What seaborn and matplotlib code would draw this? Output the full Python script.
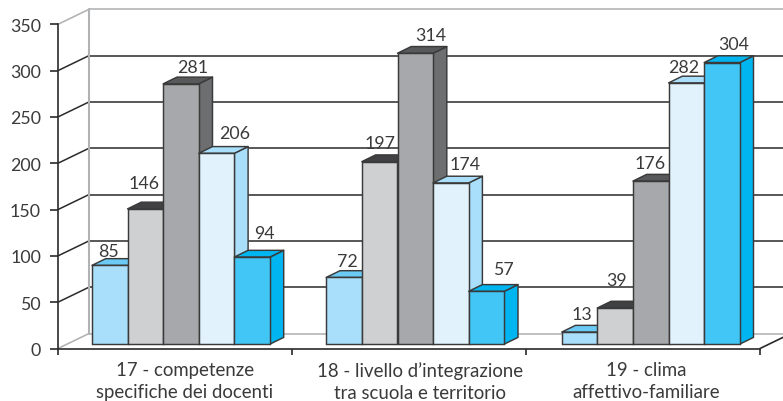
import numpy as np
import pandas as pd
import matplotlib
matplotlib.use("Agg")
import matplotlib.pyplot as plt
from matplotlib.patches import Polygon
from matplotlib.transforms import Affine2D
import seaborn as sns

categories = ["17 - competenze\nspecifiche dei docenti",
              "18 - livello d’integrazione\ntra scuola e territorio",
              "19 - clima\naffettivo-familiare"]
series_names = ["a", "b", "c", "d", "e"]
series_a = [85, 72, 13]
series_b = [146, 197, 39]
series_c = [281, 314, 176]
series_d = [206, 174, 282]
series_e = [94, 57, 304]
y_ticks = [0, 50, 100, 150, 200, 250, 300, 350]

# styling (per series)
front_cols = ["#A9DFFB", "#CFD0D2", "#A7A8AB", "#E1F2FC", "#42C6F6"]
side_cols = ["#6CCBF5", "#58595B", "#6D6E70", "#A9DFFB", "#00B5F0"]
top_cols = ["#6CCBF5", "#414042", "#58595B", "#A9DFFB", "#00B5F0"]
# label nudges in pixels (per series, per category)
label_dx = [[-1, 3, 2], [-1, 0, 1], [12, 15, -1], [18, 14, -3], [12, 17, 12]]
label_dy = [[14, 16, 18], [26, 19, 28], [17, 18, 18], [20, 19, 16], [24, 22, 19]]
cat_label_dx = [10, 11, 3]
group_dx = [-0.3, 0, 1.5]

W, H = 783, 402
AX_L, AX_R, AX_B, AX_T = 58, 760, 349.5, 25.3
INK = "#3a3a3a"
LINE = "#2a2a2b"
GREY = "#b1b2b4"
SHIFT_X, SHIFT_Y = 6.3, 4.4

sns.set_style("white")
plt.rcParams["font.family"] = ["Lato", "DejaVu Sans"]

fig = plt.figure(figsize=(W / 100, H / 100), dpi=100)
ax = fig.add_axes([AX_L / W, (H - AX_B) / H, (AX_R - AX_L) / W, (AX_B - AX_T) / H])

df = pd.DataFrame({
    "cat": categories * 5,
    "series": np.repeat(series_names, 3),
    "val": series_a + series_b + series_c + series_d + series_e,
})
sns.barplot(data=df, x="cat", y="val", hue="series", hue_order=series_names,
            palette=front_cols, width=178 / 234, gap=0, dodge=True, legend=False,
            edgecolor=INK, linewidth=1.05, saturation=1, ax=ax)

ax.set_xlim(-0.5, 2.5)
ax.set_ylim(0, 350)
ax.set_xlabel("")
ax.set_ylabel("")

px_x = 3 / (AX_R - AX_L)
px_y = 350 / (AX_B - AX_T)

# back wall
wall_dx, wall_dy = 31 * px_x, 15 * px_y
x0, x1 = -0.5, 2.5
for v in y_ticks:
    grey = v in (0, 350)
    col, lw = (GREY, 1.15) if grey else (LINE, 1.1)
    ax.plot([x0 + wall_dx, x1 + wall_dx], [v + wall_dy, v + wall_dy], color=col, lw=lw,
            clip_on=False, zorder=1, solid_capstyle="butt")
    ax.plot([x0, x0 + wall_dx], [v, v + wall_dy], color=col, lw=lw,
            clip_on=False, zorder=1, solid_capstyle="butt")
ax.plot([x0 + wall_dx, x0 + wall_dx], [wall_dy, 350 + wall_dy], color=GREY, lw=1.5,
        clip_on=False, zorder=1)
ax.plot([x1, x1 + wall_dx], [0, wall_dy], color=LINE, lw=1.2, clip_on=False, zorder=1)

# 3D bars
depth_x, depth_y = 13.7 * px_x, 6.7 * px_y

bars = []
for s, cont in enumerate(ax.containers):
    for c, rect in enumerate(cont):
        bars.append((rect.get_x(), s, c, rect))
bars.sort(key=lambda b: b[0])

for k, (x, s, c, rect) in enumerate(bars):
    w, h = rect.get_width(), rect.get_height()
    tr = ax.transData + Affine2D().translate(SHIFT_X + group_dx[c], SHIFT_Y)
    z = 3 + 2 * k
    rect.set_transform(tr)
    rect.set_clip_on(False)
    rect.set_zorder(z + 1)
    top = Polygon([(x, h), (x + depth_x, h + depth_y), (x + w + depth_x, h + depth_y), (x + w, h)],
                  closed=True, facecolor=top_cols[s], edgecolor=INK, lw=1.05,
                  transform=tr, clip_on=False, zorder=z, joinstyle="round")
    side = Polygon([(x + w, 0), (x + w + depth_x, depth_y), (x + w + depth_x, h + depth_y), (x + w, h)],
                   closed=True, facecolor=side_cols[s], edgecolor=INK, lw=1.05,
                   transform=tr, clip_on=False, zorder=z, joinstyle="round")
    ax.add_patch(side)
    ax.add_patch(top)
    ax.annotate(str(int(h)), xy=(x + w / 2, h), xycoords=tr,
                xytext=(label_dx[s][c] * 0.72, label_dy[s][c] * 0.72),
                textcoords="offset points", ha="center", va="center",
                fontsize=12.8, color=INK, zorder=100, annotation_clip=False)

# axes
for side_name in ("top", "right"):
    ax.spines[side_name].set_visible(False)
for side_name in ("left", "bottom"):
    ax.spines[side_name].set_linewidth(1.2)
    ax.spines[side_name].set_color(LINE)
    ax.spines[side_name].set_zorder(90)

ax.set_yticks(y_ticks)
ax.tick_params(axis="y", length=5.8, width=1.2, color=LINE, pad=6.5, labelsize=12.8, labelcolor=INK, left=True)
ax.set_xticks([-0.5, 0.5, 1.5, 2.5])
ax.set_xticklabels([])
ax.tick_params(axis="x", which="major", length=4.0, width=1.2, color=LINE, bottom=True)
ax.set_xticks([i + d * px_x for i, d in enumerate(cat_label_dx)], minor=True)
ax.set_xticklabels(categories, minor=True, fontsize=13.4, color=INK, linespacing=1.35)
ax.tick_params(axis="x", which="minor", length=0, pad=9.2)

fig.savefig("out.png", dpi=100, facecolor="white")
